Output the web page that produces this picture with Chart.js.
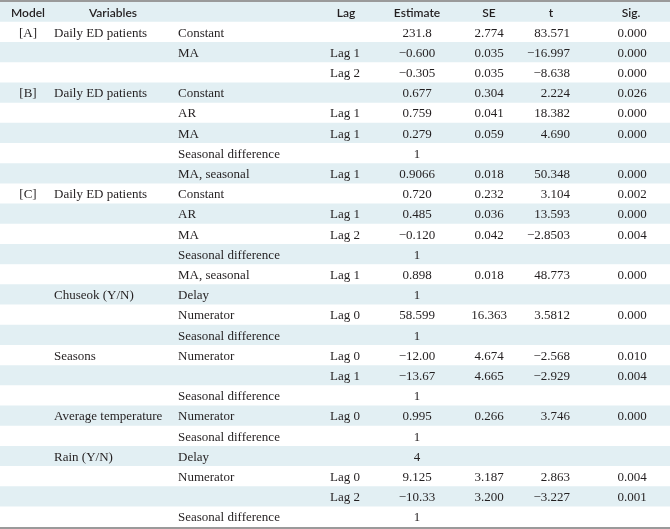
<!DOCTYPE html>
<html>
<head>
<meta charset="utf-8">
<script src="https://cdn.jsdelivr.net/npm/chart.js@4"></script>
<style>
  html, body { margin: 0; padding: 0; background: #fff; }
  canvas { display: block; }
</style>
</head>
<body>
<canvas id="tbl" width="670" height="529"></canvas>
<script>
// table content, one entry per body row ("" = empty cell)
var headers = ["Model", "Variables", "", "Lag", "Estimate", "SE", "t", "Sig."];
var models = ["[A]", "", "", "[B]", "", "", "", "", "[C]", "", "", "", "", "", "", "", "", "", "", "", "", "", "", "", ""];
var variables = ["Daily ED patients", "", "", "Daily ED patients", "", "", "", "", "Daily ED patients", "", "", "", "",
  "Chuseok (Y/N)", "", "", "Seasons", "", "", "Average temperature", "", "Rain (Y/N)", "", "", ""];
var terms = ["Constant", "MA", "", "Constant", "AR", "MA", "Seasonal difference", "MA, seasonal", "Constant", "AR", "MA",
  "Seasonal difference", "MA, seasonal", "Delay", "Numerator", "Seasonal difference", "Numerator", "", "Seasonal difference",
  "Numerator", "Seasonal difference", "Delay", "Numerator", "", "Seasonal difference"];
var lags = ["", "Lag 1", "Lag 2", "", "Lag 1", "Lag 1", "", "Lag 1", "", "Lag 1", "Lag 2", "", "Lag 1", "", "Lag 0", "",
  "Lag 0", "Lag 1", "", "Lag 0", "", "", "Lag 0", "Lag 2", ""];
var estimates = ["231.8", "\u22120.600", "\u22120.305", "0.677", "0.759", "0.279", "1", "0.9066", "0.720", "0.485", "\u22120.120",
  "1", "0.898", "1", "58.599", "1", "\u221212.00", "\u221213.67", "1", "0.995", "1", "4", "9.125", "\u221210.33", "1"];
var ses = ["2.774", "0.035", "0.035", "0.304", "0.041", "0.059", "", "0.018", "0.232", "0.036", "0.042", "", "0.018", "",
  "16.363", "", "4.674", "4.665", "", "0.266", "", "", "3.187", "3.200", ""];
var tvals = ["83.571", "\u221216.997", "\u22128.638", "2.224", "18.382", "4.690", "", "50.348", "3.104", "13.593", "\u22122.8503",
  "", "48.773", "", "3.5812", "", "\u22122.568", "\u22122.929", "", "3.746", "", "", "2.863", "\u22123.227", ""];
var sigs = ["0.000", "0.000", "0.000", "0.026", "0.000", "0.000", "", "0.000", "0.002", "0.000", "0.004", "", "0.000", "",
  "0.000", "", "0.010", "0.004", "", "0.000", "", "", "0.004", "0.001", ""];

var columns = [models, variables, terms, lags, estimates, ses, tvals, sigs];

// column anchors on the x scale (0..670) and alignment
var colX =     [28, 54, 178, 345, 417, 489, 570, 632];
var colAlign = ["center", "left", "left", "center", "center", "center", "right", "center"];
var headX =    [28, 113, 0, 346, 417, 489, 551, 631];

var BLUE = "#e2eff3";
var INK = "#231f20";

var rowLabels = ["head"];
for (var i = 0; i < models.length; i++) rowLabels.push("r" + (i + 1));
var bandData = rowLabels.map(function () { return [0, 670]; });
var bandColors = rowLabels.map(function (r, i) { return i % 2 === 0 ? BLUE : "#ffffff"; });

var cellText = {
  id: "cellText",
  afterDatasetsDraw: function (chart) {
    var ctx = chart.ctx, xs = chart.scales.x, ys = chart.scales.y, a = chart.chartArea;
    ctx.save();
    ctx.textBaseline = "middle";
    ctx.fillStyle = INK;
    // header
    ctx.font = "600 12px Lato";
    ctx.textAlign = "center";
    headers.forEach(function (h, c) {
      if (!h) return;
      ctx.fillText(h, xs.getPixelForValue(headX[c]), ys.getPixelForValue(0) + 1);
    });
    // body
    ctx.font = "13px 'Liberation Serif'";
    columns.forEach(function (col, c) {
      ctx.textAlign = colAlign[c];
      col.forEach(function (txt, r) {
        if (!txt) return;
        ctx.fillText(txt, xs.getPixelForValue(colX[c]), ys.getPixelForValue(r + 1) + 1);
      });
    });
    // rules
    ctx.fillStyle = "#9a9a9a";
    ctx.fillRect(a.left, a.top - 2, a.right - a.left, 2);
    ctx.fillRect(a.left, a.bottom, a.right - a.left, 3);
    ctx.restore();
  }
};

new Chart(document.getElementById("tbl"), {
  type: "bar",
  data: {
    labels: rowLabels,
    datasets: [{
      data: bandData,
      backgroundColor: bandColors,
      borderWidth: 0,
      barPercentage: 1,
      categoryPercentage: 1
    }]
  },
  options: {
    indexAxis: "y",
    responsive: false,
    animation: false,
    devicePixelRatio: 1,
    layout: { padding: { top: 2, bottom: 2, left: 0, right: 0 } },
    scales: {
      x: { type: "linear", min: 0, max: 670, display: false },
      y: { display: false, offset: true }
    },
    plugins: { legend: { display: false }, tooltip: { enabled: false } }
  },
  plugins: [cellText]
});
</script>
</body>
</html>
